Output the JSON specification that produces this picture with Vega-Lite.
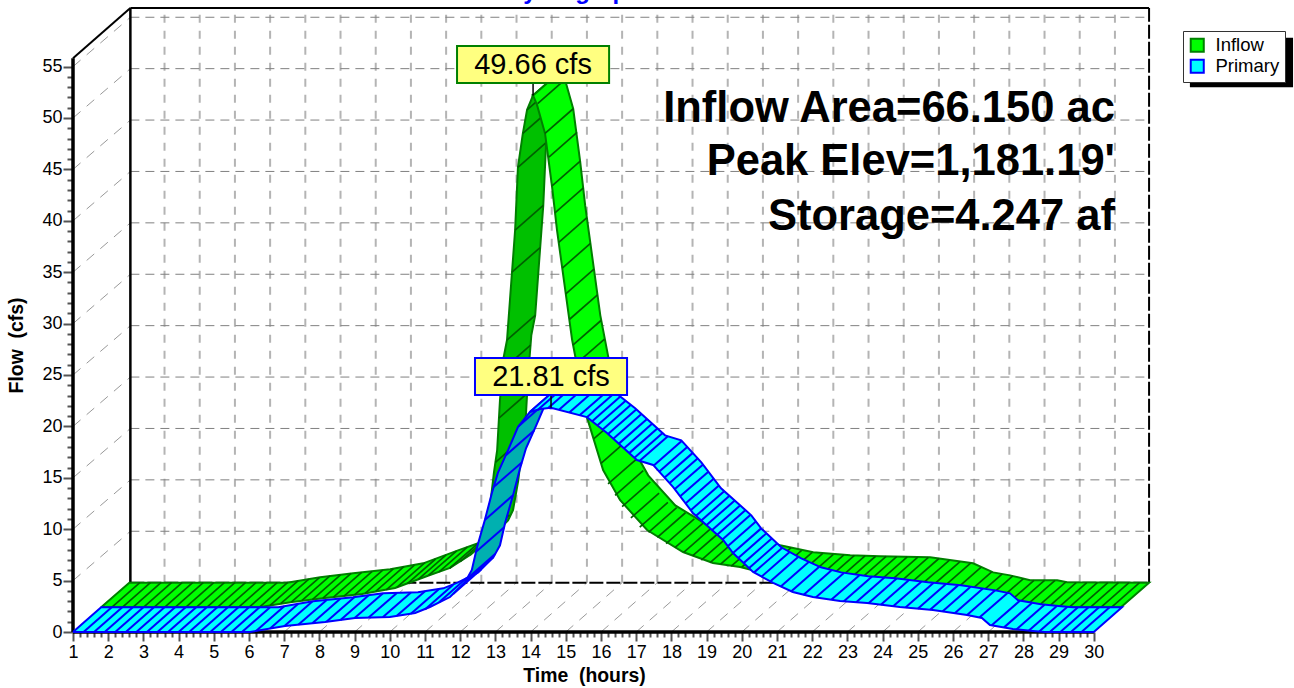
{"$schema":"https://vega.github.io/schema/vega-lite/v6.json","width":1076,"height":624,"autosize":"none","padding":{"left":73,"top":8,"right":145,"bottom":56},"background":"white","config":{"view":{"stroke":null}},
"datasets":{
"ribbons":[
{"p":"I1","o":1,"t":1.8,"f":2.4},{"p":"I1","o":2,"t":6.28,"f":2.4},{"p":"I1","o":3,"t":7.22,"f":2.92},{"p":"I1","o":4,"t":8.16,"f":3.31},{"p":"I1","o":5,"t":9.21,"f":3.7},{"p":"I1","o":6,"t":10.15,"f":4.28},{"p":"I1","o":7,"t":11.14,"f":5.54},{"p":"I1","o":8,"t":11.71,"f":6.23},{"p":"I1","o":9,"t":12.28,"f":7.49},{"p":"I1","o":10,"t":13.08,"f":9.89},{"p":"I1","o":11,"t":12.51,"f":8.63},{"p":"I1","o":12,"t":11.94,"f":7.94},{"p":"I1","o":13,"t":10.95,"f":6.68},{"p":"I1","o":14,"t":10.01,"f":6.1},{"p":"I1","o":15,"t":8.96,"f":5.71},{"p":"I1","o":16,"t":8.02,"f":5.32},{"p":"I1","o":17,"t":7.08,"f":4.8},{"p":"I1","o":18,"t":2.6,"f":4.8},{"p":"I1","o":19,"t":1.8,"f":2.4},
{"p":"I2","o":1,"t":12.28,"f":7.49},{"p":"I2","o":2,"t":12.56,"f":8.46},{"p":"I2","o":3,"t":12.7,"f":9.44},{"p":"I2","o":4,"t":12.85,"f":12.35},{"p":"I2","o":5,"t":12.96,"f":15.56},{"p":"I2","o":6,"t":13.05,"f":17.7},{"p":"I2","o":7,"t":13.13,"f":22.57},{"p":"I2","o":8,"t":13.22,"f":26.46},{"p":"I2","o":9,"t":13.33,"f":28.4},{"p":"I2","o":10,"t":13.56,"f":39.1},{"p":"I2","o":11,"t":13.64,"f":45.2},{"p":"I2","o":12,"t":13.78,"f":48.5},{"p":"I2","o":13,"t":13.9,"f":50.8},{"p":"I2","o":14,"t":14.07,"f":52.2},{"p":"I2","o":15,"t":14.87,"f":54.6},{"p":"I2","o":16,"t":14.7,"f":53.2},{"p":"I2","o":17,"t":14.58,"f":50.9},{"p":"I2","o":18,"t":14.44,"f":47.6},{"p":"I2","o":19,"t":14.36,"f":41.5},{"p":"I2","o":20,"t":14.13,"f":30.8},{"p":"I2","o":21,"t":14.02,"f":28.86},{"p":"I2","o":22,"t":13.93,"f":24.97},{"p":"I2","o":23,"t":13.85,"f":20.1},{"p":"I2","o":24,"t":13.76,"f":17.96},{"p":"I2","o":25,"t":13.65,"f":14.75},{"p":"I2","o":26,"t":13.5,"f":11.84},{"p":"I2","o":27,"t":13.36,"f":10.86},{"p":"I2","o":28,"t":13.08,"f":9.89},{"p":"I2","o":29,"t":12.28,"f":7.49},
{"p":"I3","o":1,"t":14.07,"f":52.2},{"p":"I3","o":2,"t":14.18,"f":51.3},{"p":"I3","o":3,"t":14.41,"f":48.5},{"p":"I3","o":4,"t":14.61,"f":43.3},{"p":"I3","o":5,"t":14.75,"f":39.1},{"p":"I3","o":6,"t":15.18,"f":28.4},{"p":"I3","o":7,"t":15.6,"f":20.9},{"p":"I3","o":8,"t":16.06,"f":15.76},{"p":"I3","o":9,"t":16.54,"f":12.84},{"p":"I3","o":10,"t":17.31,"f":9.92},{"p":"I3","o":11,"t":18.33,"f":7.78},{"p":"I3","o":12,"t":19.18,"f":6.71},{"p":"I3","o":13,"t":19.95,"f":6.32},{"p":"I3","o":14,"t":20.29,"f":6.03},{"p":"I3","o":15,"t":21.23,"f":5.35},{"p":"I3","o":16,"t":22.28,"f":5.06},{"p":"I3","o":17,"t":23.13,"f":4.96},{"p":"I3","o":18,"t":24.55,"f":4.86},{"p":"I3","o":19,"t":25.77,"f":4.28},{"p":"I3","o":20,"t":26.34,"f":3.4},{"p":"I3","o":21,"t":26.82,"f":3.11},{"p":"I3","o":22,"t":27.39,"f":2.63},{"p":"I3","o":23,"t":28.16,"f":2.63},{"p":"I3","o":24,"t":28.44,"f":2.43},{"p":"I3","o":25,"t":30.77,"f":2.4},{"p":"I3","o":26,"t":31.57,"f":4.8},{"p":"I3","o":27,"t":29.24,"f":4.83},{"p":"I3","o":28,"t":28.96,"f":5.03},{"p":"I3","o":29,"t":28.19,"f":5.03},{"p":"I3","o":30,"t":27.62,"f":5.51},{"p":"I3","o":31,"t":27.14,"f":5.8},{"p":"I3","o":32,"t":26.57,"f":6.68},{"p":"I3","o":33,"t":25.35,"f":7.26},{"p":"I3","o":34,"t":23.93,"f":7.36},{"p":"I3","o":35,"t":23.08,"f":7.46},{"p":"I3","o":36,"t":22.03,"f":7.75},{"p":"I3","o":37,"t":21.09,"f":8.43},{"p":"I3","o":38,"t":20.75,"f":8.72},{"p":"I3","o":39,"t":19.98,"f":9.11},{"p":"I3","o":40,"t":19.13,"f":10.18},{"p":"I3","o":41,"t":18.11,"f":12.32},{"p":"I3","o":42,"t":17.34,"f":15.24},{"p":"I3","o":43,"t":16.86,"f":18.16},{"p":"I3","o":44,"t":16.4,"f":23.3},{"p":"I3","o":45,"t":15.98,"f":30.8},{"p":"I3","o":46,"t":15.55,"f":41.5},{"p":"I3","o":47,"t":15.41,"f":45.7},{"p":"I3","o":48,"t":15.21,"f":50.9},{"p":"I3","o":49,"t":14.98,"f":53.7},{"p":"I3","o":50,"t":14.87,"f":54.6},{"p":"I3","o":51,"t":14.07,"f":52.2},
{"p":"P1","o":1,"t":1,"f":0},{"p":"P1","o":2,"t":6.03,"f":0},{"p":"P1","o":3,"t":7.02,"f":0.58},{"p":"P1","o":4,"t":8.16,"f":0.97},{"p":"P1","o":5,"t":9.01,"f":1.36},{"p":"P1","o":6,"t":10,"f":1.46},{"p":"P1","o":7,"t":10.72,"f":1.85},{"p":"P1","o":8,"t":11.14,"f":2.43},{"p":"P1","o":9,"t":11.71,"f":3.4},{"p":"P1","o":10,"t":12.14,"f":4.86},{"p":"P1","o":11,"t":12.94,"f":7.26},{"p":"P1","o":12,"t":12.51,"f":5.8},{"p":"P1","o":13,"t":11.94,"f":4.83},{"p":"P1","o":14,"t":11.52,"f":4.25},{"p":"P1","o":15,"t":10.8,"f":3.86},{"p":"P1","o":16,"t":9.81,"f":3.76},{"p":"P1","o":17,"t":8.96,"f":3.37},{"p":"P1","o":18,"t":7.82,"f":2.98},{"p":"P1","o":19,"t":6.83,"f":2.4},{"p":"P1","o":20,"t":1.8,"f":2.4},{"p":"P1","o":21,"t":1,"f":0},
{"p":"P2","o":1,"t":12.14,"f":4.86},{"p":"P2","o":2,"t":12.33,"f":6.03},{"p":"P2","o":3,"t":12.48,"f":8.27},{"p":"P2","o":4,"t":12.7,"f":10.89},{"p":"P2","o":5,"t":12.9,"f":13.52},{"p":"P2","o":6,"t":13.07,"f":15.47},{"p":"P2","o":7,"t":13.36,"f":17.7},{"p":"P2","o":8,"t":13.64,"f":19.94},{"p":"P2","o":9,"t":13.98,"f":21.4},{"p":"P2","o":10,"t":14.78,"f":23.8},{"p":"P2","o":11,"t":14.44,"f":22.34},{"p":"P2","o":12,"t":14.16,"f":20.1},{"p":"P2","o":13,"t":13.87,"f":17.87},{"p":"P2","o":14,"t":13.7,"f":15.92},{"p":"P2","o":15,"t":13.5,"f":13.29},{"p":"P2","o":16,"t":13.28,"f":10.67},{"p":"P2","o":17,"t":13.13,"f":8.43},{"p":"P2","o":18,"t":12.94,"f":7.26},{"p":"P2","o":19,"t":12.14,"f":4.86},
{"p":"P3","o":1,"t":13.98,"f":21.4},{"p":"P3","o":2,"t":14.27,"f":21.7},{"p":"P3","o":3,"t":14.58,"f":21.81},{"p":"P3","o":4,"t":15.6,"f":20.9},{"p":"P3","o":5,"t":16.17,"f":19.36},{"p":"P3","o":6,"t":17.02,"f":16.73},{"p":"P3","o":7,"t":17.48,"f":16.25},{"p":"P3","o":8,"t":18.05,"f":14.1},{"p":"P3","o":9,"t":18.61,"f":11.58},{"p":"P3","o":10,"t":19.47,"f":8.95},{"p":"P3","o":11,"t":19.75,"f":7.68},{"p":"P3","o":12,"t":20.32,"f":5.84},{"p":"P3","o":13,"t":20.89,"f":4.77},{"p":"P3","o":14,"t":21.45,"f":3.89},{"p":"P3","o":15,"t":22.02,"f":3.4},{"p":"P3","o":16,"t":22.79,"f":3.02},{"p":"P3","o":17,"t":23.56,"f":2.82},{"p":"P3","o":18,"t":24.49,"f":2.43},{"p":"P3","o":19,"t":25.43,"f":2.14},{"p":"P3","o":20,"t":26.4,"f":1.65},{"p":"P3","o":21,"t":26.82,"f":1.36},{"p":"P3","o":22,"t":27.05,"f":0.68},{"p":"P3","o":23,"t":27.7,"f":0.29},{"p":"P3","o":24,"t":28.27,"f":0.1},{"p":"P3","o":25,"t":28.61,"f":0},{"p":"P3","o":26,"t":30,"f":0},{"p":"P3","o":27,"t":30.8,"f":2.4},{"p":"P3","o":28,"t":29.41,"f":2.4},{"p":"P3","o":29,"t":29.07,"f":2.5},{"p":"P3","o":30,"t":28.5,"f":2.69},{"p":"P3","o":31,"t":27.85,"f":3.08},{"p":"P3","o":32,"t":27.62,"f":3.76},{"p":"P3","o":33,"t":27.2,"f":4.05},{"p":"P3","o":34,"t":26.23,"f":4.54},{"p":"P3","o":35,"t":25.29,"f":4.83},{"p":"P3","o":36,"t":24.36,"f":5.22},{"p":"P3","o":37,"t":23.59,"f":5.42},{"p":"P3","o":38,"t":22.82,"f":5.8},{"p":"P3","o":39,"t":22.25,"f":6.29},{"p":"P3","o":40,"t":21.69,"f":7.17},{"p":"P3","o":41,"t":21.12,"f":8.24},{"p":"P3","o":42,"t":20.55,"f":10.08},{"p":"P3","o":43,"t":20.27,"f":11.35},{"p":"P3","o":44,"t":19.41,"f":13.98},{"p":"P3","o":45,"t":18.85,"f":16.5},{"p":"P3","o":46,"t":18.28,"f":18.65},{"p":"P3","o":47,"t":17.82,"f":19.13},{"p":"P3","o":48,"t":16.97,"f":21.76},{"p":"P3","o":49,"t":16.4,"f":23.3},{"p":"P3","o":50,"t":15.38,"f":24.21},{"p":"P3","o":51,"t":15.07,"f":24.1},{"p":"P3","o":52,"t":14.78,"f":23.8},{"p":"P3","o":53,"t":13.98,"f":21.4}
],
"hatch":[
{"p":"I1","t":2.1,"f":2.4,"t2":2.9,"f2":4.8},{"p":"I1","t":2.4,"f":2.4,"t2":3.2,"f2":4.8},{"p":"I1","t":2.7,"f":2.4,"t2":3.5,"f2":4.8},{"p":"I1","t":3,"f":2.4,"t2":3.8,"f2":4.8},{"p":"I1","t":3.3,"f":2.4,"t2":4.1,"f2":4.8},{"p":"I1","t":3.6,"f":2.4,"t2":4.4,"f2":4.8},{"p":"I1","t":3.9,"f":2.4,"t2":4.7,"f2":4.8},{"p":"I1","t":4.2,"f":2.4,"t2":5,"f2":4.8},{"p":"I1","t":4.5,"f":2.4,"t2":5.3,"f2":4.8},{"p":"I1","t":4.8,"f":2.4,"t2":5.6,"f2":4.8},{"p":"I1","t":5.1,"f":2.4,"t2":5.9,"f2":4.8},{"p":"I1","t":5.4,"f":2.4,"t2":6.2,"f2":4.8},{"p":"I1","t":5.7,"f":2.4,"t2":6.5,"f2":4.8},{"p":"I1","t":6,"f":2.4,"t2":6.8,"f2":4.8},{"p":"I1","t":6.3,"f":2.43,"t2":7.1,"f2":4.83},{"p":"I1","t":6.6,"f":2.6,"t2":7.4,"f2":5},{"p":"I1","t":6.9,"f":2.75,"t2":7.7,"f2":5.15},{"p":"I1","t":7.2,"f":2.9,"t2":8,"f2":5.3},{"p":"I1","t":7.5,"f":3.05,"t2":8.3,"f2":5.45},{"p":"I1","t":7.8,"f":3.15,"t2":8.6,"f2":5.55},{"p":"I1","t":8.1,"f":3.3,"t2":8.9,"f2":5.7},{"p":"I1","t":8.4,"f":3.4,"t2":9.2,"f2":5.8},{"p":"I1","t":8.7,"f":3.5,"t2":9.5,"f2":5.9},{"p":"I1","t":9,"f":3.62,"t2":9.8,"f2":6.02},{"p":"I1","t":9.3,"f":3.75,"t2":10.1,"f2":6.15},{"p":"I1","t":9.6,"f":3.95,"t2":10.4,"f2":6.35},{"p":"I1","t":9.9,"f":4.1,"t2":10.7,"f2":6.5},{"p":"I1","t":10.2,"f":4.35,"t2":11,"f2":6.75},{"p":"I1","t":10.5,"f":4.7,"t2":11.3,"f2":7.1},{"p":"I1","t":10.8,"f":5.1,"t2":11.6,"f2":7.5},{"p":"I1","t":11.1,"f":5.5,"t2":11.9,"f2":7.9},{"p":"I1","t":11.4,"f":5.85,"t2":12.2,"f2":8.25},{"p":"I1","t":11.7,"f":6.2,"t2":12.5,"f2":8.6},{"p":"I1","t":12,"f":6.85,"t2":12.8,"f2":9.25},
{"p":"I2","t":12.6,"f":9,"t2":13.4,"f2":11.4},{"p":"I2","t":12.85,"f":12.35,"t2":13.65,"f2":14.75},{"p":"I2","t":13,"f":16.5,"t2":13.8,"f2":18.9},{"p":"I2","t":13.1,"f":20.8,"t2":13.9,"f2":23.2},{"p":"I2","t":13.2,"f":25.5,"t2":14,"f2":27.9},{"p":"I2","t":13.33,"f":28.4,"t2":14.13,"f2":30.8},{"p":"I2","t":13.47,"f":35,"t2":14.27,"f2":37.4},{"p":"I2","t":13.56,"f":39.1,"t2":14.36,"f2":41.5},{"p":"I2","t":13.64,"f":45.2,"t2":14.44,"f2":47.6},{"p":"I2","t":13.78,"f":48.5,"t2":14.58,"f2":50.9},{"p":"I2","t":13.9,"f":50.8,"t2":14.7,"f2":53.2},
{"p":"I3","t":14.2,"f":51.4,"t2":15,"f2":53.8},{"p":"I3","t":14.41,"f":48.5,"t2":15.21,"f2":50.9},{"p":"I3","t":14.52,"f":46.2,"t2":15.32,"f2":48.6},{"p":"I3","t":14.61,"f":43.4,"t2":15.41,"f2":45.8},{"p":"I3","t":14.7,"f":40.8,"t2":15.5,"f2":43.2},{"p":"I3","t":14.8,"f":37.9,"t2":15.6,"f2":40.3},{"p":"I3","t":14.9,"f":35.4,"t2":15.7,"f2":37.8},{"p":"I3","t":15,"f":32.9,"t2":15.8,"f2":35.3},{"p":"I3","t":15.1,"f":30.4,"t2":15.9,"f2":32.8},{"p":"I3","t":15.2,"f":27.9,"t2":16,"f2":30.3},{"p":"I3","t":15.3,"f":26.1,"t2":16.1,"f2":28.5},{"p":"I3","t":15.45,"f":23.6,"t2":16.25,"f2":26},{"p":"I3","t":15.6,"f":20.9,"t2":16.4,"f2":23.3},{"p":"I3","t":15.8,"f":18.8,"t2":16.6,"f2":21.2},{"p":"I3","t":16,"f":16.4,"t2":16.8,"f2":18.8},{"p":"I3","t":16.2,"f":14.4,"t2":17,"f2":16.8},{"p":"I3","t":16.4,"f":13.3,"t2":17.2,"f2":15.7},{"p":"I3","t":16.6,"f":12.2,"t2":17.4,"f2":14.6},{"p":"I3","t":16.85,"f":11.1,"t2":17.65,"f2":13.5},{"p":"I3","t":17.1,"f":10.2,"t2":17.9,"f2":12.6},{"p":"I3","t":17.35,"f":9.7,"t2":18.15,"f2":12.1},{"p":"I3","t":17.6,"f":9.2,"t2":18.4,"f2":11.6},{"p":"I3","t":17.85,"f":8.6,"t2":18.65,"f2":11},{"p":"I3","t":18.1,"f":8.2,"t2":18.9,"f2":10.6},{"p":"I3","t":18.35,"f":7.75,"t2":19.15,"f2":10.15},{"p":"I3","t":18.6,"f":7.4,"t2":19.4,"f2":9.8},{"p":"I3","t":18.85,"f":7,"t2":19.65,"f2":9.4},{"p":"I3","t":19.1,"f":6.75,"t2":19.9,"f2":9.15},{"p":"I3","t":19.4,"f":6.6,"t2":20.2,"f2":9},{"p":"I3","t":19.7,"f":6.4,"t2":20.5,"f2":8.8},{"p":"I3","t":20,"f":6.3,"t2":20.8,"f2":8.7},{"p":"I3","t":20.3,"f":6.05,"t2":21.1,"f2":8.45},{"p":"I3","t":20.6,"f":5.8,"t2":21.4,"f2":8.2},{"p":"I3","t":20.9,"f":5.55,"t2":21.7,"f2":7.95},{"p":"I3","t":21.2,"f":5.35,"t2":22,"f2":7.75},{"p":"I3","t":21.5,"f":5.25,"t2":22.3,"f2":7.65},{"p":"I3","t":21.8,"f":5.15,"t2":22.6,"f2":7.55},{"p":"I3","t":22.1,"f":5.1,"t2":22.9,"f2":7.5},{"p":"I3","t":22.4,"f":5.05,"t2":23.2,"f2":7.45},{"p":"I3","t":22.7,"f":5,"t2":23.5,"f2":7.4},{"p":"I3","t":23,"f":4.97,"t2":23.8,"f2":7.37},{"p":"I3","t":23.3,"f":4.95,"t2":24.1,"f2":7.35},{"p":"I3","t":23.6,"f":4.93,"t2":24.4,"f2":7.33},{"p":"I3","t":23.9,"f":4.9,"t2":24.7,"f2":7.3},{"p":"I3","t":24.2,"f":4.88,"t2":25,"f2":7.28},{"p":"I3","t":24.5,"f":4.86,"t2":25.3,"f2":7.26},{"p":"I3","t":24.8,"f":4.75,"t2":25.6,"f2":7.15},{"p":"I3","t":25.1,"f":4.6,"t2":25.9,"f2":7},{"p":"I3","t":25.4,"f":4.45,"t2":26.2,"f2":6.85},{"p":"I3","t":25.7,"f":4.3,"t2":26.5,"f2":6.7},{"p":"I3","t":26,"f":3.9,"t2":26.8,"f2":6.3},{"p":"I3","t":26.3,"f":3.45,"t2":27.1,"f2":5.85},{"p":"I3","t":26.6,"f":3.25,"t2":27.4,"f2":5.65},{"p":"I3","t":26.9,"f":3.05,"t2":27.7,"f2":5.45},{"p":"I3","t":27.2,"f":2.8,"t2":28,"f2":5.2},{"p":"I3","t":27.5,"f":2.63,"t2":28.3,"f2":5.03},{"p":"I3","t":27.8,"f":2.63,"t2":28.6,"f2":5.03},{"p":"I3","t":28.1,"f":2.63,"t2":28.9,"f2":5.03},{"p":"I3","t":28.4,"f":2.45,"t2":29.2,"f2":4.85},{"p":"I3","t":28.7,"f":2.4,"t2":29.5,"f2":4.8},{"p":"I3","t":29,"f":2.4,"t2":29.8,"f2":4.8},{"p":"I3","t":29.3,"f":2.4,"t2":30.1,"f2":4.8},{"p":"I3","t":29.6,"f":2.4,"t2":30.4,"f2":4.8},{"p":"I3","t":29.9,"f":2.4,"t2":30.7,"f2":4.8},{"p":"I3","t":30.2,"f":2.4,"t2":31,"f2":4.8},{"p":"I3","t":30.5,"f":2.4,"t2":31.3,"f2":4.8},
{"p":"P1","t":1.3,"f":0,"t2":2.1,"f2":2.4},{"p":"P1","t":1.6,"f":0,"t2":2.4,"f2":2.4},{"p":"P1","t":1.9,"f":0,"t2":2.7,"f2":2.4},{"p":"P1","t":2.2,"f":0,"t2":3,"f2":2.4},{"p":"P1","t":2.5,"f":0,"t2":3.3,"f2":2.4},{"p":"P1","t":2.8,"f":0,"t2":3.6,"f2":2.4},{"p":"P1","t":3.1,"f":0,"t2":3.9,"f2":2.4},{"p":"P1","t":3.4,"f":0,"t2":4.2,"f2":2.4},{"p":"P1","t":3.7,"f":0,"t2":4.5,"f2":2.4},{"p":"P1","t":4,"f":0,"t2":4.8,"f2":2.4},{"p":"P1","t":4.3,"f":0,"t2":5.1,"f2":2.4},{"p":"P1","t":4.6,"f":0,"t2":5.4,"f2":2.4},{"p":"P1","t":4.9,"f":0,"t2":5.7,"f2":2.4},{"p":"P1","t":5.2,"f":0,"t2":6,"f2":2.4},{"p":"P1","t":5.5,"f":0,"t2":6.3,"f2":2.4},{"p":"P1","t":5.8,"f":0,"t2":6.6,"f2":2.4},{"p":"P1","t":6.2,"f":0.1,"t2":7,"f2":2.5},{"p":"P1","t":6.6,"f":0.34,"t2":7.4,"f2":2.74},{"p":"P1","t":7,"f":0.57,"t2":7.8,"f2":2.97},{"p":"P1","t":7.4,"f":0.7,"t2":8.2,"f2":3.1},{"p":"P1","t":7.8,"f":0.85,"t2":8.6,"f2":3.25},{"p":"P1","t":8.2,"f":1,"t2":9,"f2":3.4},{"p":"P1","t":8.6,"f":1.17,"t2":9.4,"f2":3.57},{"p":"P1","t":9,"f":1.35,"t2":9.8,"f2":3.75},{"p":"P1","t":9.4,"f":1.4,"t2":10.2,"f2":3.8},{"p":"P1","t":9.8,"f":1.44,"t2":10.6,"f2":3.84},{"p":"P1","t":10.2,"f":1.57,"t2":11,"f2":3.97},{"p":"P1","t":10.6,"f":1.78,"t2":11.4,"f2":4.18},{"p":"P1","t":11,"f":2.2,"t2":11.8,"f2":4.6},{"p":"P1","t":11.4,"f":2.9,"t2":12.2,"f2":5.3},{"p":"P1","t":11.8,"f":3.7,"t2":12.6,"f2":6.1},
{"p":"P2","t":12.2,"f":5.2,"t2":13,"f2":7.6},{"p":"P2","t":12.45,"f":7.8,"t2":13.25,"f2":10.2},{"p":"P2","t":12.7,"f":10.9,"t2":13.5,"f2":13.3},{"p":"P2","t":12.95,"f":14.1,"t2":13.75,"f2":16.5},{"p":"P2","t":13.3,"f":17.2,"t2":14.1,"f2":19.6},{"p":"P2","t":13.65,"f":20,"t2":14.45,"f2":22.4},
{"p":"P3","t":14.2,"f":21.6,"t2":15,"f2":24},{"p":"P3","t":14.5,"f":21.8,"t2":15.3,"f2":24.2},{"p":"P3","t":14.8,"f":21.6,"t2":15.6,"f2":24},{"p":"P3","t":15.1,"f":21.35,"t2":15.9,"f2":23.75},{"p":"P3","t":15.4,"f":21.1,"t2":16.2,"f2":23.5},{"p":"P3","t":15.6,"f":20.9,"t2":16.4,"f2":23.3},{"p":"P3","t":15.75,"f":20.5,"t2":16.55,"f2":22.9},{"p":"P3","t":15.9,"f":20.1,"t2":16.7,"f2":22.5},{"p":"P3","t":16.05,"f":19.7,"t2":16.85,"f2":22.1},{"p":"P3","t":16.2,"f":19.25,"t2":17,"f2":21.65},{"p":"P3","t":16.35,"f":18.8,"t2":17.15,"f2":21.2},{"p":"P3","t":16.5,"f":18.3,"t2":17.3,"f2":20.7},{"p":"P3","t":16.65,"f":17.85,"t2":17.45,"f2":20.25},{"p":"P3","t":16.8,"f":17.4,"t2":17.6,"f2":19.8},{"p":"P3","t":16.95,"f":16.95,"t2":17.75,"f2":19.35},{"p":"P3","t":17.1,"f":16.65,"t2":17.9,"f2":19.05},{"p":"P3","t":17.5,"f":16.2,"t2":18.3,"f2":18.6},{"p":"P3","t":17.65,"f":15.6,"t2":18.45,"f2":18},{"p":"P3","t":17.8,"f":15,"t2":18.6,"f2":17.4},{"p":"P3","t":17.95,"f":14.5,"t2":18.75,"f2":16.9},{"p":"P3","t":18.1,"f":13.9,"t2":18.9,"f2":16.3},{"p":"P3","t":18.25,"f":13.2,"t2":19.05,"f2":15.6},{"p":"P3","t":18.4,"f":12.5,"t2":19.2,"f2":14.9},{"p":"P3","t":18.55,"f":11.85,"t2":19.35,"f2":14.25},{"p":"P3","t":18.7,"f":11.3,"t2":19.5,"f2":13.7},{"p":"P3","t":18.85,"f":10.85,"t2":19.65,"f2":13.25},{"p":"P3","t":19,"f":10.4,"t2":19.8,"f2":12.8},{"p":"P3","t":19.15,"f":9.9,"t2":19.95,"f2":12.3},{"p":"P3","t":19.3,"f":9.45,"t2":20.1,"f2":11.85},{"p":"P3","t":19.45,"f":9,"t2":20.25,"f2":11.4},{"p":"P3","t":19.6,"f":8.35,"t2":20.4,"f2":10.75},{"p":"P3","t":19.75,"f":7.68,"t2":20.55,"f2":10.08},{"p":"P3","t":19.9,"f":7.2,"t2":20.7,"f2":9.6},{"p":"P3","t":20.05,"f":6.7,"t2":20.85,"f2":9.1},{"p":"P3","t":20.2,"f":6.2,"t2":21,"f2":8.6},{"p":"P3","t":20.35,"f":5.8,"t2":21.15,"f2":8.2},{"p":"P3","t":20.55,"f":5.35,"t2":21.35,"f2":7.75},{"p":"P3","t":20.8,"f":4.9,"t2":21.6,"f2":7.3},{"p":"P3","t":21.1,"f":4.4,"t2":21.9,"f2":6.8},{"p":"P3","t":21.4,"f":3.95,"t2":22.2,"f2":6.35},{"p":"P3","t":21.75,"f":3.6,"t2":22.55,"f2":6},{"p":"P3","t":22.1,"f":3.35,"t2":22.9,"f2":5.75},{"p":"P3","t":22.55,"f":3.15,"t2":23.35,"f2":5.55},{"p":"P3","t":22.9,"f":3,"t2":23.7,"f2":5.4},{"p":"P3","t":23.25,"f":2.9,"t2":24.05,"f2":5.3},{"p":"P3","t":23.6,"f":2.8,"t2":24.4,"f2":5.2},{"p":"P3","t":23.95,"f":2.65,"t2":24.75,"f2":5.05},{"p":"P3","t":24.3,"f":2.5,"t2":25.1,"f2":4.9},{"p":"P3","t":24.65,"f":2.38,"t2":25.45,"f2":4.78},{"p":"P3","t":25,"f":2.27,"t2":25.8,"f2":4.67},{"p":"P3","t":25.35,"f":2.16,"t2":26.15,"f2":4.56},{"p":"P3","t":25.7,"f":2,"t2":26.5,"f2":4.4},{"p":"P3","t":26.05,"f":1.83,"t2":26.85,"f2":4.23},{"p":"P3","t":26.4,"f":1.65,"t2":27.2,"f2":4.05},{"p":"P3","t":26.75,"f":1.4,"t2":27.55,"f2":3.8},{"p":"P3","t":27.1,"f":0.65,"t2":27.9,"f2":3.05},{"p":"P3","t":27.45,"f":0.45,"t2":28.25,"f2":2.85},{"p":"P3","t":27.8,"f":0.25,"t2":28.6,"f2":2.65},{"p":"P3","t":28.15,"f":0.12,"t2":28.95,"f2":2.52},{"p":"P3","t":28.45,"f":0.05,"t2":29.25,"f2":2.45},{"p":"P3","t":28.75,"f":0,"t2":29.55,"f2":2.4},{"p":"P3","t":29.05,"f":0,"t2":29.85,"f2":2.4},{"p":"P3","t":29.35,"f":0,"t2":30.15,"f2":2.4},{"p":"P3","t":29.65,"f":0,"t2":30.45,"f2":2.4}
],
"grid":[
{"k":"v","t":3.6,"f":4.8,"t2":3.6,"f2":60.7},{"k":"v","t":4.6,"f":4.8,"t2":4.6,"f2":60.7},{"k":"v","t":5.6,"f":4.8,"t2":5.6,"f2":60.7},{"k":"v","t":6.6,"f":4.8,"t2":6.6,"f2":60.7},{"k":"v","t":7.6,"f":4.8,"t2":7.6,"f2":60.7},{"k":"v","t":8.6,"f":4.8,"t2":8.6,"f2":60.7},{"k":"v","t":9.6,"f":4.8,"t2":9.6,"f2":60.7},{"k":"v","t":10.6,"f":4.8,"t2":10.6,"f2":60.7},{"k":"v","t":11.6,"f":4.8,"t2":11.6,"f2":60.7},{"k":"v","t":12.6,"f":4.8,"t2":12.6,"f2":60.7},{"k":"v","t":13.6,"f":4.8,"t2":13.6,"f2":60.7},{"k":"v","t":14.6,"f":4.8,"t2":14.6,"f2":60.7},{"k":"v","t":15.6,"f":4.8,"t2":15.6,"f2":60.7},{"k":"v","t":16.6,"f":4.8,"t2":16.6,"f2":60.7},{"k":"v","t":17.6,"f":4.8,"t2":17.6,"f2":60.7},{"k":"v","t":18.6,"f":4.8,"t2":18.6,"f2":60.7},{"k":"v","t":19.6,"f":4.8,"t2":19.6,"f2":60.7},{"k":"v","t":20.6,"f":4.8,"t2":20.6,"f2":60.7},{"k":"v","t":21.6,"f":4.8,"t2":21.6,"f2":60.7},{"k":"v","t":22.6,"f":4.8,"t2":22.6,"f2":60.7},{"k":"v","t":23.6,"f":4.8,"t2":23.6,"f2":60.7},{"k":"v","t":24.6,"f":4.8,"t2":24.6,"f2":60.7},{"k":"v","t":25.6,"f":4.8,"t2":25.6,"f2":60.7},{"k":"v","t":26.6,"f":4.8,"t2":26.6,"f2":60.7},{"k":"v","t":27.6,"f":4.8,"t2":27.6,"f2":60.7},{"k":"v","t":28.6,"f":4.8,"t2":28.6,"f2":60.7},{"k":"v","t":29.6,"f":4.8,"t2":29.6,"f2":60.7},{"k":"v","t":30.6,"f":4.8,"t2":30.6,"f2":60.7},
{"k":"h","t":2.63,"f":9.8,"t2":31.57,"f2":9.8},{"k":"h","t":2.63,"f":14.8,"t2":31.57,"f2":14.8},{"k":"h","t":2.63,"f":19.8,"t2":31.57,"f2":19.8},{"k":"h","t":2.63,"f":24.8,"t2":31.57,"f2":24.8},{"k":"h","t":2.63,"f":29.8,"t2":31.57,"f2":29.8},{"k":"h","t":2.63,"f":34.8,"t2":31.57,"f2":34.8},{"k":"h","t":2.63,"f":39.8,"t2":31.57,"f2":39.8},{"k":"h","t":2.63,"f":44.8,"t2":31.57,"f2":44.8},{"k":"h","t":2.63,"f":49.8,"t2":31.57,"f2":49.8},{"k":"h","t":2.63,"f":54.8,"t2":31.57,"f2":54.8},{"k":"h","t":2.63,"f":59.8,"t2":31.57,"f2":59.8},
{"k":"d","t":1,"f":5,"t2":2.63,"f2":9.8},{"k":"d","t":1,"f":10,"t2":2.63,"f2":14.8},{"k":"d","t":1,"f":15,"t2":2.63,"f2":19.8},{"k":"d","t":1,"f":20,"t2":2.63,"f2":24.8},{"k":"d","t":1,"f":25,"t2":2.63,"f2":29.8},{"k":"d","t":1,"f":30,"t2":2.63,"f2":34.8},{"k":"d","t":1,"f":35,"t2":2.63,"f2":39.8},{"k":"d","t":1,"f":40,"t2":2.63,"f2":44.8},{"k":"d","t":1,"f":45,"t2":2.63,"f2":49.8},{"k":"d","t":1,"f":50,"t2":2.63,"f2":54.8},{"k":"d","t":1,"f":55,"t2":2.63,"f2":59.8},
{"k":"d","t":7,"f":0,"t2":8.6,"f2":4.8},{"k":"d","t":8,"f":0,"t2":9.6,"f2":4.8},{"k":"d","t":9,"f":0,"t2":10.6,"f2":4.8},{"k":"d","t":10,"f":0,"t2":11.6,"f2":4.8},{"k":"d","t":11,"f":0,"t2":12.6,"f2":4.8},{"k":"d","t":12,"f":0,"t2":13.6,"f2":4.8},{"k":"d","t":13,"f":0,"t2":14.6,"f2":4.8},{"k":"d","t":14,"f":0,"t2":15.6,"f2":4.8},{"k":"d","t":15,"f":0,"t2":16.6,"f2":4.8},{"k":"d","t":16,"f":0,"t2":17.6,"f2":4.8},{"k":"d","t":17,"f":0,"t2":18.6,"f2":4.8},{"k":"d","t":18,"f":0,"t2":19.6,"f2":4.8},{"k":"d","t":19,"f":0,"t2":20.6,"f2":4.8},{"k":"d","t":20,"f":0,"t2":21.6,"f2":4.8},{"k":"d","t":21,"f":0,"t2":22.6,"f2":4.8},{"k":"d","t":22,"f":0,"t2":23.6,"f2":4.8},{"k":"d","t":23,"f":0,"t2":24.6,"f2":4.8},{"k":"d","t":24,"f":0,"t2":25.6,"f2":4.8},{"k":"d","t":25,"f":0,"t2":26.6,"f2":4.8},{"k":"d","t":26,"f":0,"t2":27.6,"f2":4.8},{"k":"d","t":27,"f":0,"t2":28.6,"f2":4.8},
{"k":"back","t":2.63,"f":4.8,"t2":2.63,"f2":60.7},{"k":"top","t":2.63,"f":60.7,"t2":31.57,"f2":60.7},{"k":"top","t":1,"f":55.8,"t2":2.63,"f2":60.7},
{"k":"dash","t":2.63,"f":4.8,"t2":31.57,"f2":4.8},{"k":"dash","t":31.57,"f":4.8,"t2":31.57,"f2":60.7},
{"k":"front","t":1,"f":0,"t2":1,"f2":55.8},{"k":"front","t":1,"f":0,"t2":30,"f2":0}
],
"peaks":[{"series":"Inflow","t":14.07,"f":52.2},{"series":"Primary","t":14.58,"f":21.81}]
},
"encoding":{
"x":{"field":"t","type":"quantitative","scale":{"domain":[1,31.568],"nice":false,"zero":false},"axis":{"title":"Time \u00a0(hours)","titleFont":"Liberation Sans","titleFontWeight":"bold","titleFontSize":19.4,"titleColor":"black","titleX":511,"titleY":49,"titleBaseline":"alphabetic","grid":false,"domain":false,"tickColor":"#555","tickWidth":2,"tickSize":{"condition":{"test":"datum.value % 1 === 0","value":9},"value":5},"labelFont":"Liberation Sans","labelFontSize":18,"labelColor":"black","labelPadding":2,"labelOverlap":false,"labelFlush":false,"labelBound":false,"labelExpr":"datum.value % 1 === 0 ? format(datum.value,'d') : ''","values":[1,1.2,1.4,1.6,1.8,2,2.2,2.4,2.6,2.8,3,3.2,3.4,3.6,3.8,4,4.2,4.4,4.6,4.8,5,5.2,5.4,5.6,5.8,6,6.2,6.4,6.6,6.8,7,7.2,7.4,7.6,7.8,8,8.2,8.4,8.6,8.8,9,9.2,9.4,9.6,9.8,10,10.2,10.4,10.6,10.8,11,11.2,11.4,11.6,11.8,12,12.2,12.4,12.6,12.8,13,13.2,13.4,13.6,13.8,14,14.2,14.4,14.6,14.8,15,15.2,15.4,15.6,15.8,16,16.2,16.4,16.6,16.8,17,17.2,17.4,17.6,17.8,18,18.2,18.4,18.6,18.8,19,19.2,19.4,19.6,19.8,20,20.2,20.4,20.6,20.8,21,21.2,21.4,21.6,21.8,22,22.2,22.4,22.6,22.8,23,23.2,23.4,23.6,23.8,24,24.2,24.4,24.6,24.8,25,25.2,25.4,25.6,25.8,26,26.2,26.4,26.6,26.8,27,27.2,27.4,27.6,27.8,28,28.2,28.4,28.6,28.8,29,29.2,29.4,29.6,29.8,30]}},
"y":{"field":"f","type":"quantitative","scale":{"domain":[0,60.7],"nice":false,"zero":false},"axis":{"title":"Flow \u00a0(cfs)","titleFont":"Liberation Sans","titleFontWeight":"bold","titleFontSize":19.4,"titleColor":"black","titleX":-47,"titleY":337,"titleAngle":-90,"grid":false,"domain":false,"tickColor":"#555","tickWidth":2,"tickSize":{"condition":{"test":"datum.value % 5 === 0","value":10},"value":6},"labelFont":"Liberation Sans","labelFontSize":18,"labelColor":"black","labelPadding":1,"labelOverlap":false,"labelFlush":false,"labelBound":false,"labelExpr":"datum.value % 5 === 0 ? datum.label : ''","values":[0,1,2,3,4,5,6,7,8,9,10,11,12,13,14,15,16,17,18,19,20,21,22,23,24,25,26,27,28,29,30,31,32,33,34,35,36,37,38,39,40,41,42,43,44,45,46,47,48,49,50,51,52,53,54,55]}}
},
"layer":[
{"data":{"name":"grid"},"transform":[{"filter":{"field":"k","equal":"v"}}],"mark":{"type":"rule","color":"#b4b4b4","strokeWidth":2,"strokeDash":[8,8]},"encoding":{"x2":{"field":"t2"},"y2":{"field":"f2"}}},
{"data":{"name":"grid"},"transform":[{"filter":{"field":"k","equal":"h"}}],"mark":{"type":"rule","color":"#808080","strokeWidth":1,"strokeDash":[9,6]},"encoding":{"x2":{"field":"t2"},"y2":{"field":"f2"}}},
{"data":{"name":"grid"},"transform":[{"filter":{"field":"k","equal":"d"}}],"mark":{"type":"rule","color":"#999999","strokeWidth":1,"strokeDash":[10,8]},"encoding":{"x2":{"field":"t2"},"y2":{"field":"f2"}}},
{"data":{"name":"grid"},"transform":[{"filter":{"field":"k","equal":"back"}}],"mark":{"type":"rule","color":"black","strokeWidth":2.5},"encoding":{"x2":{"field":"t2"},"y2":{"field":"f2"}}},
{"data":{"name":"grid"},"transform":[{"filter":{"field":"k","equal":"top"}}],"mark":{"type":"rule","color":"black","strokeWidth":2},"encoding":{"x2":{"field":"t2"},"y2":{"field":"f2"}}},
{"data":{"name":"grid"},"transform":[{"filter":{"field":"k","equal":"dash"}}],"mark":{"type":"rule","color":"black","strokeWidth":2,"strokeDash":[14,3]},"encoding":{"x2":{"field":"t2"},"y2":{"field":"f2"}}},
{"data":{"name":"grid"},"transform":[{"filter":{"field":"k","equal":"front"}}],"mark":{"type":"rule","color":"black","strokeWidth":3.5},"encoding":{"x2":{"field":"t2"},"y2":{"field":"f2"}}},
{"data":{"values":[{"t":32.73,"f":53,"t2":35.66,"f2":57.8}]},"mark":{"type":"rect","fill":"black"},"encoding":{"x2":{"field":"t2"},"y2":{"field":"f2"}}},
{"data":{"name":"peaks"},"mark":{"type":"point","filled":true,"shape":"square","size":1,"opacity":1},"encoding":{"fill":{"field":"series","type":"nominal","scale":{"domain":["Inflow","Primary"],"range":["#00ff00","#00ffff"]},"legend":{"title":null,"orient":"none","legendX":1110,"legendY":23,"fillColor":"white","strokeColor":"#333","padding":5,"symbolType":"square","symbolSize":170,"symbolStrokeWidth":2,"labelFont":"Liberation Sans","labelFontSize":18.5,"labelColor":"black","labelOffset":9,"rowPadding":-1}},"stroke":{"field":"series","type":"nominal","scale":{"domain":["Inflow","Primary"],"range":["#008000","#0000ff"]},"legend":null}}},
{"data":{"name":"ribbons"},"transform":[{"filter":{"field":"p","equal":"I1"}}],"mark":{"type":"line","fill":"#00ff00","stroke":"#008000","strokeWidth":2},"encoding":{"order":{"field":"o","type":"quantitative"}}},
{"data":{"name":"hatch"},"transform":[{"filter":{"field":"p","equal":"I1"}}],"mark":{"type":"rule","color":"#006000","strokeWidth":1.7},"encoding":{"x2":{"field":"t2"},"y2":{"field":"f2"}}},
{"data":{"name":"ribbons"},"transform":[{"filter":{"field":"p","equal":"I2"}}],"mark":{"type":"line","fill":"#00c000","stroke":"#008000","strokeWidth":2},"encoding":{"order":{"field":"o","type":"quantitative"}}},
{"data":{"name":"hatch"},"transform":[{"filter":{"field":"p","equal":"I2"}}],"mark":{"type":"rule","color":"#006000","strokeWidth":1.7},"encoding":{"x2":{"field":"t2"},"y2":{"field":"f2"}}},
{"data":{"name":"ribbons"},"transform":[{"filter":{"field":"p","equal":"I3"}}],"mark":{"type":"line","fill":"#00ff00","stroke":"#008000","strokeWidth":2},"encoding":{"order":{"field":"o","type":"quantitative"}}},
{"data":{"name":"hatch"},"transform":[{"filter":{"field":"p","equal":"I3"}}],"mark":{"type":"rule","color":"#006000","strokeWidth":1.7},"encoding":{"x2":{"field":"t2"},"y2":{"field":"f2"}}},
{"data":{"name":"ribbons"},"transform":[{"filter":{"field":"p","equal":"P1"}}],"mark":{"type":"line","fill":"#00ffff","stroke":"#0000ff","strokeWidth":2},"encoding":{"order":{"field":"o","type":"quantitative"}}},
{"data":{"name":"hatch"},"transform":[{"filter":{"field":"p","equal":"P1"}}],"mark":{"type":"rule","color":"#0000ff","strokeWidth":2},"encoding":{"x2":{"field":"t2"},"y2":{"field":"f2"}}},
{"data":{"name":"ribbons"},"transform":[{"filter":{"field":"p","equal":"P2"}}],"mark":{"type":"line","fill":"#00b0b0","stroke":"#0000ff","strokeWidth":2},"encoding":{"order":{"field":"o","type":"quantitative"}}},
{"data":{"name":"hatch"},"transform":[{"filter":{"field":"p","equal":"P2"}}],"mark":{"type":"rule","color":"#0000ff","strokeWidth":2},"encoding":{"x2":{"field":"t2"},"y2":{"field":"f2"}}},
{"data":{"name":"ribbons"},"transform":[{"filter":{"field":"p","equal":"P3"}}],"mark":{"type":"line","fill":"#00ffff","stroke":"#0000ff","strokeWidth":2},"encoding":{"order":{"field":"o","type":"quantitative"}}},
{"data":{"name":"hatch"},"transform":[{"filter":{"field":"p","equal":"P3"}}],"mark":{"type":"rule","color":"#0000ff","strokeWidth":2},"encoding":{"x2":{"field":"t2"},"y2":{"field":"f2"}}},
{"data":{"values":[{"t":14.07,"f":53.4,"t2":14.07,"f2":52.2},{"t":14.58,"f":23.05,"t2":14.58,"f2":21.81}]},"mark":{"type":"rule","color":"black","strokeWidth":1.5},"encoding":{"x2":{"field":"t2"},"y2":{"field":"f2"}}},
{"data":{"values":[{"t":11.91,"f":53.4,"t2":16.23,"f2":57}]},"mark":{"type":"rect","fill":"#ffff80","stroke":"#008000","strokeWidth":2},"encoding":{"x2":{"field":"t2"},"y2":{"field":"f2"}}},
{"data":{"values":[{"t":12.42,"f":23.05,"t2":16.74,"f2":26.65}]},"mark":{"type":"rect","fill":"#ffff80","stroke":"#0000ff","strokeWidth":2},"encoding":{"x2":{"field":"t2"},"y2":{"field":"f2"}}},
{"data":{"values":[{"t":14.07,"f":55.2,"label":"49.66 cfs"},{"t":14.58,"f":24.85,"label":"21.81 cfs"}]},"mark":{"type":"text","font":"Liberation Sans","fontSize":29,"color":"black","align":"center","baseline":"middle"},"encoding":{"text":{"field":"label"}}},
{"data":{"values":[{"t":30.6,"f":49.6,"label":"Inflow Area=66.150 ac"},{"t":30.6,"f":44.46,"label":"Peak Elev=1,181.19'"},{"t":30.6,"f":39.1,"label":"Storage=4.247 af"}]},"mark":{"type":"text","font":"Liberation Sans","fontSize":43.5,"fontWeight":"bold","color":"black","align":"right","baseline":"alphabetic"},"encoding":{"text":{"field":"label"}}},
{"data":{"values":[{"t":15.23,"f":61.6,"label":"Hydrograph"}]},"mark":{"type":"text","font":"Liberation Sans","fontSize":24,"fontWeight":"bold","color":"#0000ff","align":"center","baseline":"alphabetic"},"encoding":{"text":{"field":"label"}}}
]}
